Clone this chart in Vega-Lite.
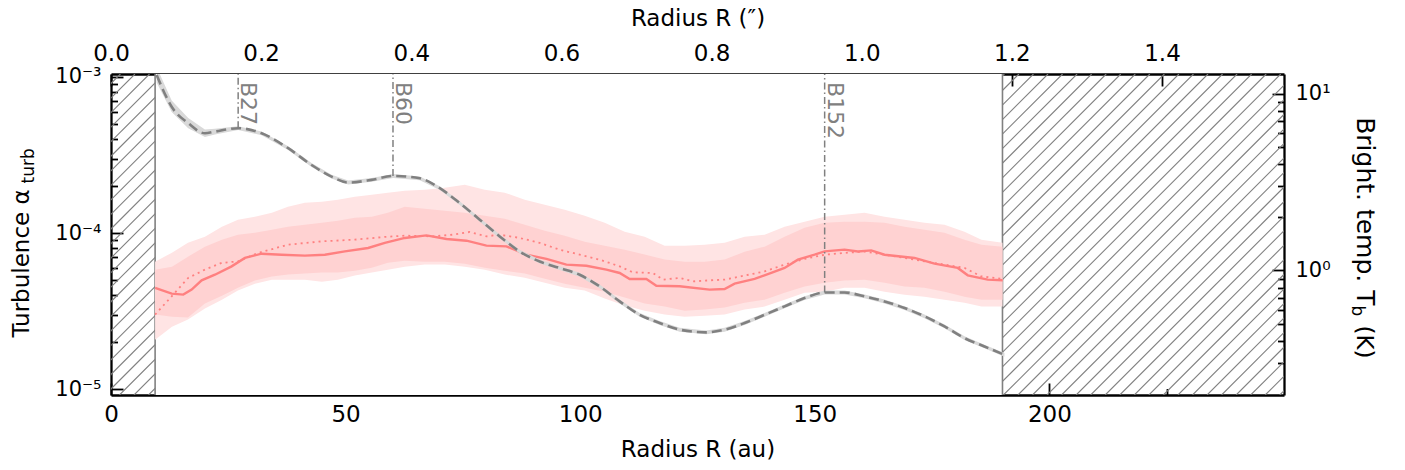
{
"$schema": "https://vega.github.io/schema/vega-lite/v6.json",
"width": 1173, "height": 321,
"autosize": {"type": "none"},
"padding": {"left": 111, "top": 74, "right": 121, "bottom": 75},
"background": "white",
"config": {
 "view": {"stroke": null},
 "font": "DejaVu Sans",
 "axis": {"zindex": 1, "domainColor": "black", "domainWidth": 2.3, "tickColor": "black", "tickWidth": 1.8, "labelColor": "black", "titleColor": "black", "labelFont": "DejaVu Sans", "titleFont": "DejaVu Sans", "labelFontSize": 23, "titleFontSize": 23, "titleFontWeight": "normal", "grid": false, "labelFlush": false, "labelOverlap": false}
},
"datasets": {
 "hatch": [
  {"h0": 8.0, "h1": 76.4}, {"h0": 4.9, "h1": 73.3}, {"h0": 1.8, "h1": 70.2}, {"h0": -1.3, "h1": 67.1}, {"h0": -4.4, "h1": 64.0},
  {"h0": -7.5, "h1": 60.9}, {"h0": -10.6, "h1": 57.8}, {"h0": -13.7, "h1": 54.7}, {"h0": -16.8, "h1": 51.6}, {"h0": -19.9, "h1": 48.5},
  {"h0": -23.0, "h1": 45.4}, {"h0": -26.1, "h1": 42.3}, {"h0": -29.2, "h1": 39.2}, {"h0": -32.3, "h1": 36.1}, {"h0": -35.4, "h1": 33.0},
  {"h0": -38.5, "h1": 29.9}, {"h0": -41.6, "h1": 26.8}, {"h0": -44.7, "h1": 23.7}, {"h0": -47.8, "h1": 20.6}, {"h0": -50.9, "h1": 17.5},
  {"h0": -54.0, "h1": 14.4}, {"h0": -57.1, "h1": 11.3}, {"h0": -60.2, "h1": 8.2}, {"h0": -63.3, "h1": 5.1}, {"h0": -66.4, "h1": 2.0},
  {"h0": 122.0, "h1": 190.4}, {"h0": 125.1, "h1": 193.5}, {"h0": 128.2, "h1": 196.6}, {"h0": 131.3, "h1": 199.7}, {"h0": 134.4, "h1": 202.8},
  {"h0": 137.5, "h1": 205.9}, {"h0": 140.6, "h1": 209.0}, {"h0": 143.7, "h1": 212.1}, {"h0": 146.8, "h1": 215.2}, {"h0": 149.9, "h1": 218.3},
  {"h0": 153.0, "h1": 221.4}, {"h0": 156.1, "h1": 224.5}, {"h0": 159.2, "h1": 227.6}, {"h0": 162.3, "h1": 230.7}, {"h0": 165.4, "h1": 233.8},
  {"h0": 168.5, "h1": 236.9}, {"h0": 171.6, "h1": 240.0}, {"h0": 174.7, "h1": 243.1}, {"h0": 177.8, "h1": 246.2}, {"h0": 180.9, "h1": 249.3},
  {"h0": 184.0, "h1": 252.4}, {"h0": 187.1, "h1": 255.5}, {"h0": 190.2, "h1": 258.6}, {"h0": 193.3, "h1": 261.7}, {"h0": 196.4, "h1": 264.8},
  {"h0": 199.5, "h1": 267.9}, {"h0": 202.6, "h1": 271.0}, {"h0": 205.7, "h1": 274.1}, {"h0": 208.8, "h1": 277.2}, {"h0": 211.9, "h1": 280.3},
  {"h0": 215.0, "h1": 283.4}, {"h0": 218.1, "h1": 286.5}, {"h0": 221.2, "h1": 289.6}, {"h0": 224.3, "h1": 292.7}, {"h0": 227.4, "h1": 295.8},
  {"h0": 230.5, "h1": 298.9}, {"h0": 233.6, "h1": 302.0}, {"h0": 236.7, "h1": 305.1}, {"h0": 239.8, "h1": 308.2}, {"h0": 242.9, "h1": 311.3},
  {"h0": 246.0, "h1": 314.4}, {"h0": 249.1, "h1": 317.5}
 ],
 "band": [
  {"r": 9.4, "oL": 2.08e-5, "iL": 3.01e-5, "iU": 5.84e-5, "oU": 6.57e-5},
  {"r": 12.99, "oL": 2.52e-5, "iL": 2.92e-5, "iU": 6.10e-5, "oU": 7.50e-5},
  {"r": 16.40, "oL": 2.80e-5, "iL": 2.88e-5, "iU": 7.07e-5, "oU": 8.69e-5},
  {"r": 20.02, "oL": 3.29e-5, "iL": 3.54e-5, "iU": 8.20e-5, "oU": 9.50e-5},
  {"r": 23.64, "oL": 3.75e-5, "iL": 3.98e-5, "iU": 9.09e-5, "oU": 1.100e-4},
  {"r": 27.05, "oL": 4.29e-5, "iL": 4.48e-5, "iU": 9.78e-5, "oU": 1.220e-4},
  {"r": 30.67, "oL": 4.75e-5, "iL": 4.97e-5, "iU": 1.007e-4, "oU": 1.275e-4},
  {"r": 34.29, "oL": 5.04e-5, "iL": 5.27e-5, "iU": 1.053e-4, "oU": 1.353e-4},
  {"r": 37.70, "oL": 5.04e-5, "iL": 5.43e-5, "iU": 1.100e-4, "oU": 1.478e-4},
  {"r": 41.32, "oL": 5.04e-5, "iL": 5.51e-5, "iU": 1.133e-4, "oU": 1.567e-4},
  {"r": 44.94, "oL": 4.89e-5, "iL": 5.59e-5, "iU": 1.167e-4, "oU": 1.591e-4},
  {"r": 48.35, "oL": 5.04e-5, "iL": 5.59e-5, "iU": 1.202e-4, "oU": 1.638e-4},
  {"r": 51.97, "oL": 5.35e-5, "iL": 5.75e-5, "iU": 1.257e-4, "oU": 1.713e-4},
  {"r": 55.59, "oL": 5.59e-5, "iL": 6.01e-5, "iU": 1.275e-4, "oU": 1.764e-4},
  {"r": 59.00, "oL": 5.84e-5, "iL": 6.47e-5, "iU": 1.353e-4, "oU": 1.816e-4},
  {"r": 62.62, "oL": 6.10e-5, "iL": 6.67e-5, "iU": 1.478e-4, "oU": 1.871e-4},
  {"r": 66.88, "oL": 6.29e-5, "iL": 6.57e-5, "iU": 1.435e-4, "oU": 1.898e-4},
  {"r": 71.14, "oL": 6.29e-5, "iL": 6.57e-5, "iU": 1.393e-4, "oU": 1.956e-4},
  {"r": 75.40, "oL": 6.10e-5, "iL": 6.38e-5, "iU": 1.353e-4, "oU": 2.044e-4},
  {"r": 79.66, "oL": 5.84e-5, "iL": 6.01e-5, "iU": 1.294e-4, "oU": 1.898e-4},
  {"r": 83.92, "oL": 5.43e-5, "iL": 5.75e-5, "iU": 1.238e-4, "oU": 1.816e-4},
  {"r": 88.18, "oL": 5.19e-5, "iL": 5.51e-5, "iU": 1.133e-4, "oU": 1.638e-4},
  {"r": 92.44, "oL": 4.82e-5, "iL": 5.11e-5, "iU": 1.038e-4, "oU": 1.522e-4},
  {"r": 96.70, "oL": 4.48e-5, "iL": 4.75e-5, "iU": 9.64e-5, "oU": 1.414e-4},
  {"r": 100.96, "oL": 4.29e-5, "iL": 4.48e-5, "iU": 8.82e-5, "oU": 1.294e-4},
  {"r": 105.22, "oL": 3.81e-5, "iL": 4.22e-5, "iU": 8.32e-5, "oU": 1.167e-4},
  {"r": 109.48, "oL": 3.44e-5, "iL": 3.87e-5, "iU": 7.84e-5, "oU": 1.022e-4},
  {"r": 113.74, "oL": 3.19e-5, "iL": 3.54e-5, "iU": 7.29e-5, "oU": 9.50e-5},
  {"r": 118.00, "oL": 3.01e-5, "iL": 3.39e-5, "iU": 6.77e-5, "oU": 8.32e-5},
  {"r": 122.26, "oL": 2.92e-5, "iL": 3.19e-5, "iU": 6.57e-5, "oU": 8.32e-5},
  {"r": 126.52, "oL": 2.96e-5, "iL": 3.24e-5, "iU": 6.57e-5, "oU": 8.44e-5},
  {"r": 130.78, "oL": 3.01e-5, "iL": 3.34e-5, "iU": 6.77e-5, "oU": 8.69e-5},
  {"r": 135.04, "oL": 3.24e-5, "iL": 3.59e-5, "iU": 7.61e-5, "oU": 9.50e-5},
  {"r": 139.30, "oL": 3.39e-5, "iL": 3.75e-5, "iU": 8.20e-5, "oU": 9.78e-5},
  {"r": 143.56, "oL": 3.75e-5, "iL": 4.16e-5, "iU": 9.50e-5, "oU": 1.100e-4},
  {"r": 147.82, "oL": 4.16e-5, "iL": 4.55e-5, "iU": 1.084e-4, "oU": 1.185e-4},
  {"r": 152.08, "oL": 4.22e-5, "iL": 4.82e-5, "iU": 1.167e-4, "oU": 1.275e-4},
  {"r": 156.34, "oL": 4.48e-5, "iL": 4.97e-5, "iU": 1.185e-4, "oU": 1.313e-4},
  {"r": 160.60, "oL": 4.48e-5, "iL": 5.04e-5, "iU": 1.185e-4, "oU": 1.353e-4},
  {"r": 164.86, "oL": 4.22e-5, "iL": 4.82e-5, "iU": 1.167e-4, "oU": 1.275e-4},
  {"r": 169.12, "oL": 4.04e-5, "iL": 4.55e-5, "iU": 1.100e-4, "oU": 1.220e-4},
  {"r": 173.38, "oL": 3.92e-5, "iL": 4.48e-5, "iU": 1.053e-4, "oU": 1.167e-4},
  {"r": 177.64, "oL": 3.75e-5, "iL": 4.22e-5, "iU": 1.007e-4, "oU": 1.133e-4},
  {"r": 181.90, "oL": 3.59e-5, "iL": 3.92e-5, "iU": 9.09e-5, "oU": 1.022e-4},
  {"r": 185.52, "oL": 3.39e-5, "iL": 3.75e-5, "iU": 8.44e-5, "oU": 9.09e-5},
  {"r": 190.0, "oL": 3.39e-5, "iL": 3.75e-5, "iU": 8.20e-5, "oU": 8.69e-5}
 ],
 "solid": [
  {"r": 9.4, "a": 4.46e-5}, {"r": 12.93, "a": 4.10e-5}, {"r": 15.40, "a": 4.04e-5}, {"r": 17.19, "a": 4.35e-5}, {"r": 19.32, "a": 4.99e-5},
  {"r": 22.15, "a": 5.42e-5}, {"r": 25.71, "a": 6.13e-5}, {"r": 28.54, "a": 6.94e-5}, {"r": 32.10, "a": 7.39e-5}, {"r": 36.36, "a": 7.28e-5},
  {"r": 41.32, "a": 7.18e-5}, {"r": 45.58, "a": 7.28e-5}, {"r": 49.84, "a": 7.64e-5}, {"r": 54.80, "a": 8.04e-5}, {"r": 58.36, "a": 8.66e-5},
  {"r": 62.62, "a": 9.32e-5}, {"r": 67.24, "a": 9.68e-5}, {"r": 71.50, "a": 9.18e-5}, {"r": 75.76, "a": 8.95e-5}, {"r": 80.02, "a": 8.32e-5},
  {"r": 84.28, "a": 8.23e-5}, {"r": 88.54, "a": 7.28e-5}, {"r": 92.80, "a": 6.84e-5}, {"r": 97.06, "a": 6.29e-5}, {"r": 101.32, "a": 6.19e-5},
  {"r": 105.58, "a": 5.84e-5}, {"r": 108.41, "a": 5.56e-5}, {"r": 110.54, "a": 5.09e-5}, {"r": 114.10, "a": 5.09e-5}, {"r": 116.23, "a": 4.61e-5},
  {"r": 121.19, "a": 4.57e-5}, {"r": 127.58, "a": 4.35e-5}, {"r": 130.78, "a": 4.39e-5}, {"r": 132.91, "a": 4.75e-5}, {"r": 137.17, "a": 5.09e-5},
  {"r": 140.72, "a": 5.56e-5}, {"r": 143.56, "a": 5.99e-5}, {"r": 146.39, "a": 6.77e-5}, {"r": 149.95, "a": 7.28e-5}, {"r": 152.08, "a": 7.64e-5},
  {"r": 156.34, "a": 7.84e-5}, {"r": 159.17, "a": 7.64e-5}, {"r": 162.02, "a": 7.76e-5}, {"r": 164.86, "a": 7.28e-5}, {"r": 171.25, "a": 6.94e-5},
  {"r": 175.51, "a": 6.38e-5}, {"r": 180.47, "a": 5.99e-5}, {"r": 182.60, "a": 5.37e-5}, {"r": 186.86, "a": 5.04e-5}, {"r": 190.05, "a": 4.99e-5}
 ],
 "dotted": [
  {"r": 9.4, "a": 3.01e-5}, {"r": 12.93, "a": 3.94e-5}, {"r": 16.46, "a": 5.17e-5}, {"r": 20.02, "a": 5.84e-5}, {"r": 23.58, "a": 6.45e-5},
  {"r": 27.11, "a": 6.60e-5}, {"r": 31.37, "a": 7.47e-5}, {"r": 37.76, "a": 8.44e-5}, {"r": 44.88, "a": 8.86e-5}, {"r": 51.97, "a": 9.09e-5},
  {"r": 58.36, "a": 9.46e-5}, {"r": 62.62, "a": 9.64e-5}, {"r": 68.65, "a": 9.54e-5}, {"r": 72.91, "a": 9.78e-5}, {"r": 76.46, "a": 1.018e-4},
  {"r": 80.02, "a": 9.54e-5}, {"r": 82.85, "a": 9.78e-5}, {"r": 87.11, "a": 9.32e-5}, {"r": 91.37, "a": 8.66e-5}, {"r": 95.63, "a": 7.84e-5},
  {"r": 99.89, "a": 7.28e-5}, {"r": 104.15, "a": 6.77e-5}, {"r": 108.41, "a": 6.13e-5}, {"r": 111.25, "a": 5.61e-5}, {"r": 115.51, "a": 5.56e-5},
  {"r": 117.64, "a": 5.04e-5}, {"r": 121.19, "a": 5.17e-5}, {"r": 124.03, "a": 4.91e-5}, {"r": 127.58, "a": 4.99e-5}, {"r": 130.78, "a": 5.04e-5},
  {"r": 135.04, "a": 5.35e-5}, {"r": 139.30, "a": 5.69e-5}, {"r": 143.56, "a": 6.29e-5}, {"r": 147.82, "a": 6.84e-5}, {"r": 152.08, "a": 7.28e-5},
  {"r": 156.34, "a": 7.47e-5}, {"r": 160.60, "a": 7.64e-5}, {"r": 164.86, "a": 7.28e-5}, {"r": 169.12, "a": 6.94e-5}, {"r": 173.38, "a": 6.60e-5},
  {"r": 177.64, "a": 6.29e-5}, {"r": 181.90, "a": 5.99e-5}, {"r": 185.46, "a": 5.29e-5}, {"r": 190.05, "a": 5.09e-5}
 ],
 "tb": [
  {"r": 9.73, "tb": 12.81, "lo": 11.6, "hi": 14.2}, {"r": 12.93, "tb": 8.47, "lo": 7.9, "hi": 9.2}, {"r": 16.46, "tb": 6.83, "lo": 6.4, "hi": 7.3},
  {"r": 20.02, "tb": 5.99, "lo": 5.7, "hi": 6.3}, {"r": 22.15, "tb": 6.12, "lo": 5.9, "hi": 6.35}, {"r": 27.11, "tb": 6.40, "lo": 6.25, "hi": 6.56},
  {"r": 32.10, "tb": 5.99, "lo": 5.84, "hi": 6.14}, {"r": 37.76, "tb": 4.93, "lo": 4.81, "hi": 5.05}, {"r": 42.75, "tb": 3.96, "lo": 3.86, "hi": 4.06},
  {"r": 47.01, "tb": 3.40, "lo": 3.32, "hi": 3.49}, {"r": 50.54, "tb": 3.15, "lo": 3.07, "hi": 3.23}, {"r": 55.53, "tb": 3.26, "lo": 3.18, "hi": 3.34},
  {"r": 60.13, "tb": 3.43, "lo": 3.34, "hi": 3.52}, {"r": 65.81, "tb": 3.33, "lo": 3.25, "hi": 3.41}, {"r": 70.07, "tb": 2.93, "lo": 2.86, "hi": 3.00},
  {"r": 74.33, "tb": 2.41, "lo": 2.35, "hi": 2.47}, {"r": 78.59, "tb": 1.94, "lo": 1.89, "hi": 1.99}, {"r": 82.85, "tb": 1.56, "lo": 1.52, "hi": 1.60},
  {"r": 87.11, "tb": 1.28, "lo": 1.25, "hi": 1.31}, {"r": 91.37, "tb": 1.124, "lo": 1.096, "hi": 1.152}, {"r": 95.63, "tb": 1.032, "lo": 1.006, "hi": 1.058},
  {"r": 99.89, "tb": 0.946, "lo": 0.922, "hi": 0.970}, {"r": 104.15, "tb": 0.812, "lo": 0.792, "hi": 0.832}, {"r": 108.41, "tb": 0.668, "lo": 0.651, "hi": 0.685},
  {"r": 112.67, "tb": 0.561, "lo": 0.547, "hi": 0.575}, {"r": 116.93, "tb": 0.504, "lo": 0.491, "hi": 0.517}, {"r": 121.19, "tb": 0.462, "lo": 0.450, "hi": 0.474},
  {"r": 126.88, "tb": 0.446, "lo": 0.435, "hi": 0.457}, {"r": 130.78, "tb": 0.462, "lo": 0.450, "hi": 0.474}, {"r": 135.04, "tb": 0.504, "lo": 0.491, "hi": 0.517},
  {"r": 139.30, "tb": 0.561, "lo": 0.547, "hi": 0.575}, {"r": 143.56, "tb": 0.626, "lo": 0.610, "hi": 0.642}, {"r": 147.82, "tb": 0.698, "lo": 0.681, "hi": 0.715},
  {"r": 152.08, "tb": 0.751, "lo": 0.732, "hi": 0.770}, {"r": 156.34, "tb": 0.751, "lo": 0.732, "hi": 0.770}, {"r": 160.60, "tb": 0.713, "lo": 0.695, "hi": 0.731},
  {"r": 164.86, "tb": 0.668, "lo": 0.651, "hi": 0.685}, {"r": 169.12, "tb": 0.613, "lo": 0.598, "hi": 0.628}, {"r": 173.38, "tb": 0.550, "lo": 0.536, "hi": 0.564},
  {"r": 177.64, "tb": 0.482, "lo": 0.470, "hi": 0.494}, {"r": 181.90, "tb": 0.414, "lo": 0.404, "hi": 0.424}, {"r": 186.16, "tb": 0.371, "lo": 0.362, "hi": 0.380},
  {"r": 190.42, "tb": 0.333, "lo": 0.325, "hi": 0.341}
 ],
 "marks": [
  {"r": 27.1, "tb": 6.40, "lab": "B27"}, {"r": 60.1, "tb": 3.43, "lab": "B60"}, {"r": 152.1, "tb": 0.751, "lab": "B152"}
 ],
 "edges": [{"r": 9.4}, {"r": 190}],
 "gap": [{"a": 9.4, "b": 190}]
},
"resolve": {"scale": {"y": "independent"}, "axis": {"x": "independent", "y": "independent"}},
"layer": [
 {
  "resolve": {"axis": {"x": "independent", "y": "independent"}},
  "layer": [
   {
    "data": {"name": "hatch"},
    "mark": {"type": "rule", "clip": true, "color": "#808080", "strokeWidth": 1.1},
    "encoding": {
     "x": {"field": "h0", "type": "quantitative", "scale": {"domain": [0, 250], "nice": false, "zero": false},
      "axis": {"orient": "bottom", "values": [0, 25, 50, 75, 100, 125, 150, 175, 200, 225],
       "labelExpr": "datum.value % 50 === 0 ? format(datum.value, 'd') : ''",
       "tickSize": {"condition": {"test": "datum.value % 50 === 0", "value": -12}, "value": -6.5},
       "labelPadding": 20.6, "title": "Radius R (au)", "titleBaseline": "alphabetic", "titleY": 61}},
     "x2": {"field": "h1"},
     "y": {"datum": 9.2e-6, "type": "quantitative", "scale": {"type": "log", "domain": [9.2e-6, 1.045e-3], "nice": false},
      "axis": {"orient": "left", "values": [1e-5, 2e-5, 3e-5, 4e-5, 5e-5, 6e-5, 7e-5, 8e-5, 9e-5, 1e-4, 2e-4, 3e-4, 4e-4, 5e-4, 6e-4, 7e-4, 8e-4, 9e-4, 1e-3],
       "labelExpr": "abs(log(datum.value)/LN10 - round(log(datum.value)/LN10)) > 0.01 ? '' : (datum.value < 5e-5 ? '10⁻⁵' : (datum.value < 5e-4 ? '10⁻⁴' : '10⁻³'))",
       "tickSize": {"condition": {"test": "abs(log(datum.value)/LN10 - round(log(datum.value)/LN10)) < 0.01", "value": -12}, "value": -6.5},
       "labelPadding": 22, "labelFontSize": 21,
       "title": "Turbulence α", "titleAngle": 270, "titleAlign": "left", "titleBaseline": "alphabetic", "titleX": -83, "titleY": 263}},
     "y2": {"datum": 1.045e-3}
    }
   },
   {
    "data": {"name": "gap"},
    "mark": {"type": "rect", "color": "white"},
    "encoding": {"x": {"field": "a", "type": "quantitative", "axis": null}, "x2": {"field": "b"},
     "y": {"datum": 9.2e-6, "type": "quantitative", "axis": null}, "y2": {"datum": 1.045e-3}}
   },
   {
    "data": {"name": "edges"},
    "mark": {"type": "rule", "color": "#808080", "strokeWidth": 1.6},
    "encoding": {"x": {"field": "r", "type": "quantitative", "axis": null},
     "y": {"datum": 9.2e-6, "type": "quantitative", "axis": null}, "y2": {"datum": 1.045e-3}}
   },
   {
    "data": {"name": "band"},
    "mark": {"type": "area", "color": "#ffe4e4", "opacity": 1},
    "encoding": {
     "x": {"field": "r", "type": "quantitative", "axis": null},
     "y": {"field": "oL", "type": "quantitative",
      "axis": {"orient": "left", "ticks": false, "labels": false, "domain": false, "title": "turb", "titleFontSize": 17, "titleAngle": 270, "titleAlign": "left", "titleBaseline": "alphabetic", "titleX": -78, "titleY": 109}},
     "y2": {"field": "oU"}
    }
   },
   {
    "data": {"name": "band"},
    "mark": {"type": "area", "color": "#ffd2d2", "opacity": 1},
    "encoding": {
     "x": {"field": "r", "type": "quantitative", "axis": null},
     "y": {"field": "iL", "type": "quantitative", "axis": null},
     "y2": {"field": "iU"}
    }
   },
   {
    "data": {"name": "dotted"},
    "mark": {"type": "line", "color": "#ff8080", "strokeWidth": 1.8, "strokeDash": [2, 4]},
    "encoding": {
     "x": {"field": "r", "type": "quantitative", "axis": null},
     "y": {"field": "a", "type": "quantitative", "axis": null}
    }
   },
   {
    "data": {"name": "solid"},
    "mark": {"type": "line", "color": "#ff8080", "strokeWidth": 2.4},
    "encoding": {
     "x": {"field": "r", "type": "quantitative", "axis": null},
     "y": {"field": "a", "type": "quantitative", "axis": null}
    }
   }
  ]
 },
 {
  "resolve": {"axis": {"x": "independent", "y": "independent"}},
  "layer": [
   {
    "data": {"name": "tb"},
    "mark": {"type": "area", "color": "#d9d9d9", "clip": true},
    "encoding": {
     "x": {"field": "r", "type": "quantitative",
      "axis": {"orient": "top", "values": [0, 32, 64, 96, 128, 160, 192, 224], "labelExpr": "format(datum.value/160, '.1f')",
       "tickSize": -12, "labelPadding": 21, "title": "Radius R (″)", "titleBaseline": "alphabetic", "titleY": -49}},
     "y": {"field": "lo", "type": "quantitative", "scale": {"type": "log", "domain": [0.197, 12.98], "nice": false},
      "axis": {"orient": "right", "values": [0.3, 0.4, 0.5, 0.6, 0.7, 0.8, 0.9, 1, 2, 3, 4, 5, 6, 7, 8, 9, 10],
       "labelExpr": "abs(log(datum.value)/LN10 - round(log(datum.value)/LN10)) > 0.01 ? '' : (datum.value > 5 ? '10¹' : '10⁰')",
       "tickSize": {"condition": {"test": "abs(log(datum.value)/LN10 - round(log(datum.value)/LN10)) < 0.01", "value": -12}, "value": -6.5},
       "labelPadding": 23, "labelFontSize": 21,
       "title": "Bright. temp. T", "titleFontSize": 25, "titleAngle": 90, "titleAlign": "right", "titleBaseline": "alphabetic", "titleX": 72, "titleY": 231}},
     "y2": {"field": "hi"}
    }
   },
   {
    "data": {"name": "marks"},
    "mark": {"type": "rule", "color": "#808080", "strokeWidth": 1.5, "strokeDash": [7, 3, 1.5, 3]},
    "encoding": {
     "x": {"field": "r", "type": "quantitative", "axis": null},
     "y": {"field": "tb", "type": "quantitative",
      "axis": {"orient": "right", "ticks": false, "labels": false, "domain": false, "title": "b", "titleFontSize": 17, "titleAngle": 90, "titleAlign": "left", "titleBaseline": "alphabetic", "titleX": 67, "titleY": 231}},
     "y2": {"datum": 12.98}
    }
   },
   {
    "data": {"name": "marks"},
    "mark": {"type": "text", "color": "#808080", "fontSize": 22, "angle": 90, "align": "left", "baseline": "alphabetic", "dx": 8, "dy": -3},
    "encoding": {
     "x": {"field": "r", "type": "quantitative", "axis": null},
     "y": {"datum": 12.98, "type": "quantitative", "axis": null},
     "text": {"field": "lab"}
    }
   },
   {
    "data": {"name": "tb"},
    "mark": {"type": "line", "color": "#808080", "strokeWidth": 2.6, "strokeDash": [10, 5], "interpolate": "monotone", "clip": true},
    "encoding": {
     "x": {"field": "r", "type": "quantitative", "axis": null},
     "y": {"field": "tb", "type": "quantitative",
      "axis": {"orient": "right", "ticks": false, "labels": false, "domain": false, "title": "(K)", "titleAngle": 90, "titleAlign": "left", "titleBaseline": "alphabetic", "titleX": 72, "titleY": 251}}
    }
   }
  ]
 }
]
}
